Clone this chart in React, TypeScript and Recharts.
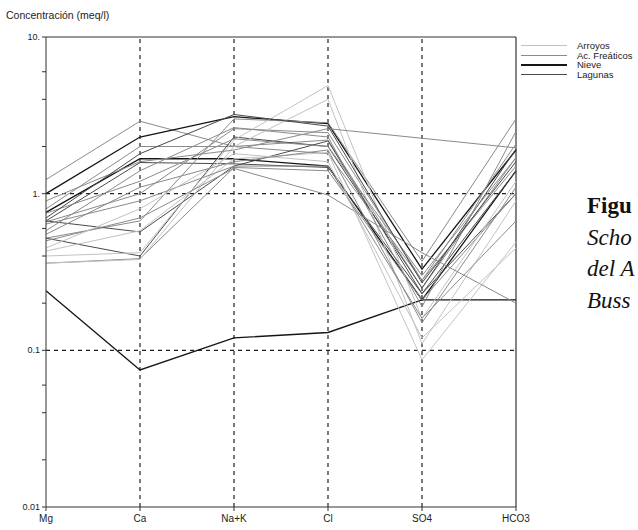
import React from 'react';
import { LineChart, Line, XAxis, YAxis, ReferenceLine } from 'recharts';

// Ion categories (x axis)
const ions = ['Mg', 'Ca', 'Na+K', 'Cl', 'SO4', 'HCO3'];

// Y axis ticks (log scale, meq/l)
const majorTicks = [0.01, 0.1, 1, 10];
const majorLabels = ['0.01', '0.1', '1.', '10.'];
const minorTicks = [0.02, 0.04, 0.06, 0.08, 0.2, 0.4, 0.6, 0.8, 2, 4, 6, 8];

// Legend groups
const groupNames = ['Arroyos', 'Ac. Freáticos', 'Nieve', 'Lagunas'];
const groupColors = ['#c2c2c2', '#8a8a8a', '#151515', '#4a4a4a'];

// Samples: values for Mg, Ca, Na+K, Cl, SO4, HCO3 (meq/l)
const s01 = [0.24, 0.075, 0.12, 0.13, 0.21, 0.21];
const s02 = [1.23, 2.9, 2.0, 1.8, 0.28, 1.5];
const s03 = [1.0, 2.3, 3.1, 2.8, 0.33, 1.9];
const s04 = [0.8, 2.0, 2.0, 2.2, 0.25, 1.7];
const s05 = [0.76, 1.67, 1.67, 1.5, 0.21, 1.4];
const s06 = [0.67, 1.58, 1.55, 1.47, 0.23, 1.0];
const s07 = [0.66, 1.0, 2.6, 2.45, 0.28, 2.08];
const s08 = [0.52, 0.67, 3.0, 2.84, 0.37, 3.0];
const s09 = [0.52, 0.4, 2.3, 2.0, 0.25, 1.93];
const s10 = [0.67, 0.57, 1.5, 2.17, 0.23, 1.4];
const s11 = [0.36, 0.385, 1.47, 1.4, 0.21, 1.0];
const s12 = [0.4, 0.42, 2.2, 4.9, 0.16, 1.2];
const s13 = [0.36, 0.38, 2.0, 4.0, 0.11, 0.9];
const s14 = [0.9, 1.6, 1.9, 2.6, null, 1.96];
const s15 = [0.43, 0.58, 1.67, 1.83, 0.087, 0.49];
const s16 = [0.75, 1.2, 2.24, 2.0, 0.3, 1.7];
const s17 = [0.64, 0.9, 1.5, 1.5, 0.16, 0.67];
const s18 = [0.5, 0.7, 1.45, 0.98, 0.42, 0.2];
const s19 = [0.58, 1.4, 2.64, 2.3, 0.19, 2.5];
const s20 = [0.45, 0.8, 1.8, 1.6, 0.12, 0.45];
const s21 = [0.7, 1.8, 3.2, 2.7, 0.27, 1.6];
const s22 = [0.55, 1.1, 1.6, 1.9, 0.15, 1.1];

const samples = [s01, s02, s03, s04, s05, s06, s07, s08, s09, s10, s11, s12, s13, s14, s15, s16, s17, s18, s19, s20, s21, s22];
// group index of each sample (0 Arroyos, 1 Ac. Freáticos, 2 Nieve, 3 Lagunas)
const sampleGroups = [2, 1, 2, 1, 2, 3, 1, 1, 3, 3, 1, 0, 0, 1, 0, 1, 1, 1, 1, 0, 3, 1];

const data = ions.map((ion, i) => {
  const row: Record<string, any> = { ion };
  samples.forEach((s, k) => {
    row['s' + k] = s[i];
  });
  return row;
});

const allTicks = [...majorTicks, ...minorTicks].sort((a, b) => a - b);

const YTick = (props: any) => {
  const { x, y, payload } = props;
  const idx = majorTicks.indexOf(payload.value);
  if (idx < 0) return null;
  return (
    <text x={x} y={y} dy={3} textAnchor="end" fontSize={9} fill="#222" fontFamily="Liberation Sans, Arial, sans-serif">
      {majorLabels[idx]}
    </text>
  );
};

const LegendBox = () => (
  <div style={{ position: 'absolute', left: 521, top: 41, fontFamily: 'Liberation Sans, Arial, sans-serif', fontSize: 9.5, color: '#222', whiteSpace: 'nowrap' }}>
    {groupNames.map((g, i) => (
      <div key={g} style={{ display: 'flex', alignItems: 'center', height: 9.5 }}>
        <div style={{ width: 46, height: 0, borderTop: `${i === 2 ? 2 : 1.2}px solid ${groupColors[i]}`, marginRight: 10 }} />
        <span>{g}</span>
      </div>
    ))}
  </div>
);

export default function App() {
  return (
    <div style={{ position: 'absolute', left: 0, top: 0, width: 638, height: 530, overflow: 'hidden', background: '#fff' }}>
      <div style={{ position: 'absolute', left: 6, top: 9, fontFamily: 'Liberation Sans, Arial, sans-serif', fontSize: 10.5, color: '#222' }}>
        Concentración (meq/l)
      </div>
      <LineChart width={638} height={530} data={data} margin={{ top: 37, right: 122, bottom: 5, left: 4 }}>
        <XAxis
          dataKey="ion"
          interval={0}
          stroke="#333"
          tickSize={4}
          tickMargin={4}
          height={18}
          tick={{ fontSize: 10, fill: '#222', fontFamily: 'Liberation Sans, Arial, sans-serif' }}
        />
        <YAxis
          type="number"
          scale="log"
          domain={[0.01, 10]}
          ticks={allTicks}
          allowDataOverflow
          width={42}
          stroke="#333"
          tickSize={4}
          tick={<YTick />}
        />
        {[0.1, 1].map((v) => (
          <ReferenceLine key={v} y={v} stroke="#222" strokeDasharray="4 4" strokeWidth={1.2} />
        ))}
        {['Ca', 'Na+K', 'Cl', 'SO4'].map((c) => (
          <ReferenceLine key={c} x={c} stroke="#222" strokeDasharray="4 4" strokeWidth={1.2} />
        ))}
        <ReferenceLine y={10} stroke="#333" strokeWidth={1.2} />
        <ReferenceLine x="HCO3" stroke="#333" strokeWidth={1.2} />
        {samples.map((s, k) => (
          <Line
            key={k}
            dataKey={'s' + k}
            stroke={groupColors[sampleGroups[k]]}
            strokeWidth={sampleGroups[k] === 2 ? 1.3 : 1}
            dot={false}
            activeDot={false}
            connectNulls
            isAnimationActive={false}
          />
        ))}
      </LineChart>
      <LegendBox />
      <div style={{ position: 'absolute', left: 587, top: 190, fontFamily: 'Liberation Serif, Times New Roman, serif', fontSize: 23, lineHeight: '31.5px', color: '#111', whiteSpace: 'nowrap' }}>
        <div style={{ fontWeight: 'bold' }}>Figu</div>
        <div style={{ fontStyle: 'italic' }}>Scho</div>
        <div style={{ fontStyle: 'italic' }}>del A</div>
        <div style={{ fontStyle: 'italic' }}>Buss</div>
      </div>
    </div>
  );
}
